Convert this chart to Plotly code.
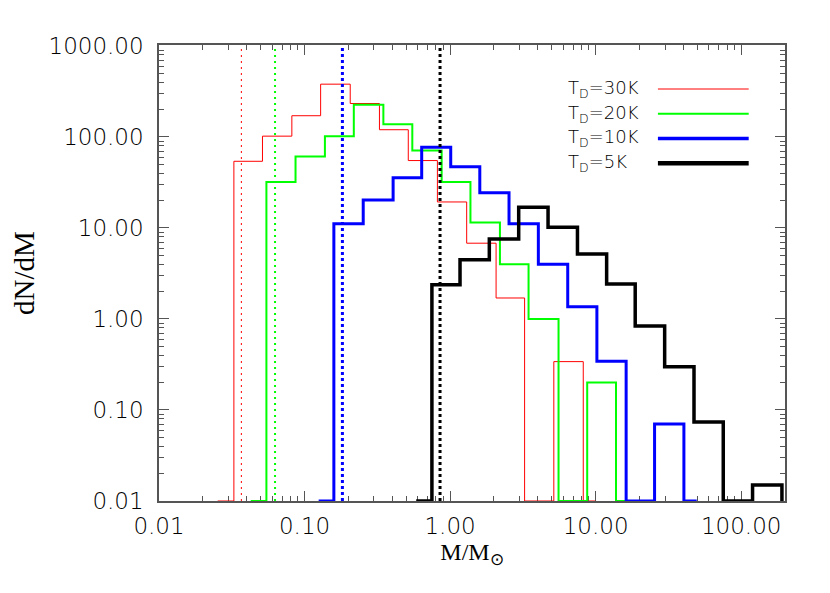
import plotly.graph_objects as go

# ---------------- data ----------------
series_names = ["T<sub>D</sub>=30K", "T<sub>D</sub>=20K", "T<sub>D</sub>=10K", "T<sub>D</sub>=5K"]

# bin edges (M/Msun) and dN/dM per bin (0.01 = empty bin, drawn on the floor)
red_edges = [0.0253, 0.0327, 0.0514, 0.0818, 0.129, 0.206, 0.327, 0.516, 0.818,
             1.30, 2.07, 3.25, 5.16, 8.22, 9.95]
red_vals = [0.01, 54, 102, 171, 380, 233, 120, 55, 19.3, 6.8, 1.70, 0.01, 0.34, 0.01]

green_edges = [0.0427, 0.0547, 0.0867, 0.138, 0.218, 0.348, 0.550, 0.875, 1.38,
               2.20, 3.46, 5.56, 8.75, 13.8, 17.4]
green_vals = [0.01, 32, 61, 102, 225, 138, 71, 32, 11.5, 4.0, 1.0, 0.01, 0.20, 0.01]

blue_edges = [0.125, 0.159, 0.253, 0.406, 0.638, 1.01, 1.60, 2.54, 4.04, 6.43,
              10.2, 16.2, 25.4, 40.4, 49.5]
blue_vals = [0.01, 11.1, 20.3, 35.7, 77, 46.9, 24.3, 11.1, 4.0, 1.36, 0.344, 0.01, 0.07, 0.01]

black_edges = [0.585, 0.750, 1.17, 1.86, 2.96, 4.71, 7.50, 11.9, 18.7, 29.8,
               47.4, 75.3, 119.7, 190.5]
black_vals = [0.01, 2.38, 4.46, 7.57, 16.9, 10.2, 5.18, 2.42, 0.835, 0.298, 0.074, 0.01, 0.015]

# characteristic masses (vertical dotted lines)
vlines = [0.0368, 0.0627, 0.182, 0.853]

x_tickvals = [0.01, 0.1, 1, 10, 100]
x_ticktext = ["0.01", "0.10", "1.00", "10.00", "100.00"]
y_tickvals = [0.01, 0.1, 1, 10, 100, 1000]
y_ticktext = ["0.01", "0.10", "1.00", "10.00", "100.00", "1000.00"]

# ---------------- styles ----------------
colors = ["#ff0000", "#00ff00", "#0000ff", "#000000"]
widths = [1, 2, 3, 3.5]
leg_widths = [1, 2, 3.5, 4.5]
vdash = ["2px,4px", "2px,4px", "3px,3px", "3px,3px"]
vwidth = [1, 2, 3, 3]
floor = 0.01
tickfont = dict(family="DejaVu Sans", size=23, color="black", weight=200)

fig = go.Figure()

all_edges = [red_edges, green_edges, blue_edges, black_edges]
all_vals = [red_vals, green_vals, blue_vals, black_vals]

for name, edges, vals, c, w in zip(series_names, all_edges, all_vals, colors, widths):
    xs = list(edges) + [edges[-1]]
    ys = list(vals) + [vals[-1], floor]
    fig.add_trace(go.Scatter(x=xs, y=ys, mode="lines", line=dict(color=c, width=w, shape="hv"),
                             name=name, showlegend=False, hoverinfo="skip"))

for v, c, d, w in zip(vlines, colors, vdash, vwidth):
    fig.add_shape(type="line", xref="x", yref="paper", x0=v, x1=v, y0=0, y1=1,
                  line=dict(color=c, width=w, dash=d), layer="above")

# legend (text left, line sample right)
leg_y0 = 0.9035
leg_dy = 0.0542
for i, (name, c, w) in enumerate(zip(series_names, colors, leg_widths)):
    yy = leg_y0 - i * leg_dy
    fig.add_annotation(x=0.65, y=yy, xref="paper", yref="paper", text=name, showarrow=False,
                       xanchor="left", yanchor="middle",
                       font=dict(family="DejaVu Sans", size=18, color="black", weight=200))
    fig.add_shape(type="line", xref="paper", yref="paper", x0=0.797, x1=0.942, y0=yy, y1=yy,
                  line=dict(color=c, width=w))

minor_vals = [m * 10 ** e for e in range(-2, 4) for m in range(2, 10)]
axcol = "#555555"
common = dict(type="log", showline=True, linecolor=axcol, linewidth=1.5, mirror="ticks",
              ticks="inside", ticklen=10, tickwidth=1.2, tickcolor=axcol, showgrid=False,
              zeroline=False, layer="below traces", tickfont=tickfont,
              minor=dict(tickmode="array", tickvals=minor_vals, ticks="inside", ticklen=5,
                         tickwidth=1, tickcolor=axcol))

fig.update_xaxes(**common, range=[-2, 2.301], tickmode="array", tickvals=x_tickvals,
                 ticktext=x_ticktext, ticklabelstandoff=4,
                 title=dict(text="M/M<sub>⊙</sub>", standoff=4,
                            font=dict(family="Liberation Serif", size=24, color="black")))
fig.update_yaxes(**common, range=[-2, 3.01], tickmode="array", tickvals=y_tickvals,
                 ticktext=y_ticktext, ticklabelstandoff=9,
                 title=dict(text="dN/dM", standoff=8,
                            font=dict(family="Liberation Serif", size=29, color="black")))

# page body has an 8px default margin: offsets compensate
fig.update_layout(width=830, height=593, margin=dict(l=137, r=53, t=37, b=100),
                  plot_bgcolor="white", paper_bgcolor="white", showlegend=False)

fig.write_html("out.html")
